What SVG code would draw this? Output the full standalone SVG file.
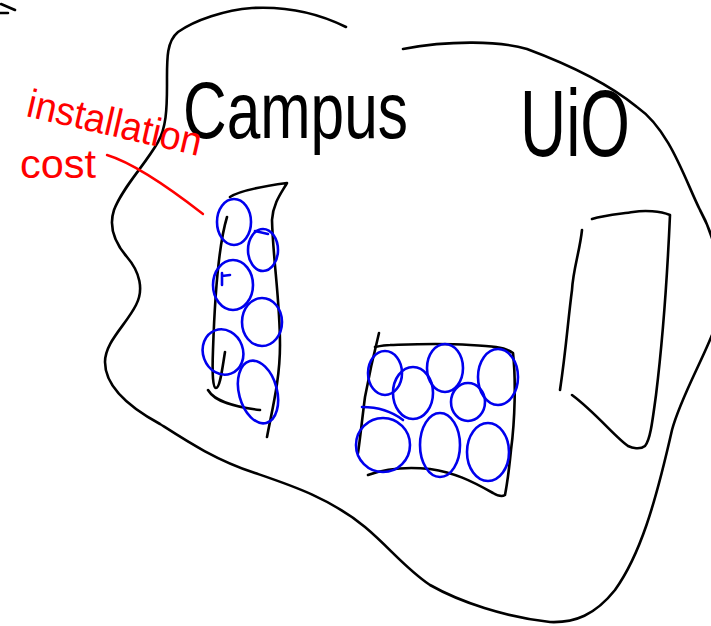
<svg xmlns="http://www.w3.org/2000/svg" width="711" height="626" viewBox="0 0 711 626">
<style>
.ink{fill:none;stroke:#000;stroke-width:2.6;stroke-linecap:round;stroke-linejoin:round}
.blue{fill:none;stroke:#0000ee;stroke-width:2.6;stroke-linecap:round;stroke-linejoin:round}
.red{fill:none;stroke:#ff0000;stroke-width:2.4;stroke-linecap:round;stroke-linejoin:round}
.lbl{font-family:"Liberation Sans",Arial,sans-serif;fill:#000}
.rlbl{font-family:"Liberation Sans",Arial,sans-serif;fill:#ff0000}
</style>
<rect width="711" height="626" fill="#fff"/>
<g id="corner-mark">
<path class="ink" d="M1,4 L15,10 M0,13 L8,13"/>
</g>
<g id="campus-outline">
<path class="ink" d="M346,27 C322,15 290,6 252,8 C225,10 195,20 178,32 C166,42 167,60 167,85 C167,110 166,128 158,142 C145,165 122,188 114,210 C108,228 115,243 127,257 C140,272 144,290 136,305 C126,325 105,342 105,362 C105,385 125,405 160,424 C185,440 215,460 255,473 C290,485 330,498 365,527 C390,548 405,568 430,585 C460,602 505,617 550,622 C575,623 595,615 615,590 C640,555 655,505 672,430 C680,400 700,365 712,335 C725,300 722,250 700,210 C685,180 670,130 637,107 C610,85 570,65 527,49 C500,41 450,40 403,49"/>
</g>
<g id="label-campus">
<text class="lbl" x="183" y="138" font-size="80" textLength="225" lengthAdjust="spacingAndGlyphs">Campus</text>
</g>
<g id="label-uio">
<text class="lbl" x="520" y="156" font-size="95" textLength="110" lengthAdjust="spacingAndGlyphs">UiO</text>
</g>
<g id="area-left">
<path class="ink" d="M230,197 C240,190 265,186 287,183 C282,192 273,203 272,220 C273,260 280,300 280,345 C280,380 272,410 267,437"/>
<path class="ink" d="M227,217 C220,240 215,290 213,350 C212,375 213,388 216,388 C220,388 222,370 225,352"/>
<path class="ink" d="M208,390 C215,402 235,407 260,410"/>
<ellipse class="blue" cx="234" cy="222" rx="17" ry="23"/>
<ellipse class="blue" cx="263" cy="250" rx="15" ry="21"/>
<path class="blue" d="M255,231 L268,234"/>
<ellipse class="blue" cx="233" cy="285" rx="20" ry="25"/>
<path class="blue" d="M222,276 L230,275 M222,273 L222,285"/>
<ellipse class="blue" cx="262" cy="322" rx="20" ry="24"/>
<ellipse class="blue" cx="223" cy="352" rx="20" ry="23" transform="rotate(-20 223 352)"/>
<ellipse class="blue" cx="258" cy="392" rx="19" ry="32" transform="rotate(-15 258 392)"/>
</g>
<g id="area-middle">
<path class="ink" d="M379,333 C376,345 370,370 365,397 C362,420 360,440 358,453"/>
<path class="ink" d="M375,347 C380,346 385,345 390,345 C420,344 440,343 470,345 C490,346 505,347 513,353 C516,380 515,420 511,450 C509,470 507,485 505,495 C502,497 498,496 493,493 C470,480 455,473 430,469 C410,467 390,467 368,475"/>
<ellipse class="blue" cx="385" cy="373" rx="17" ry="22"/>
<ellipse class="blue" cx="413" cy="393" rx="20" ry="26"/>
<ellipse class="blue" cx="445" cy="368" rx="18" ry="24"/>
<ellipse class="blue" cx="468" cy="402" rx="17" ry="19"/>
<ellipse class="blue" cx="498" cy="377" rx="20" ry="28"/>
<ellipse class="blue" cx="383" cy="445" rx="27" ry="27"/>
<path class="blue" d="M362,407 C375,407 390,410 403,420"/>
<ellipse class="blue" cx="440" cy="445" rx="20" ry="32"/>
<ellipse class="blue" cx="488" cy="452" rx="21" ry="29"/>
</g>
<g id="area-right">
<path class="ink" d="M582,230 C580,250 573,270 572,290 C568,320 566,350 560,390"/>
<path class="ink" d="M592,219 C605,215 620,214 633,212 C645,210 660,211 670,215 C668,260 664,330 656,395 C652,425 650,440 645,446 C640,450 632,448 628,446 C615,437 595,412 572,395"/>
</g>
<g id="label-installation-cost">
<text class="rlbl" x="25" y="116" font-size="40" textLength="178" lengthAdjust="spacingAndGlyphs" transform="rotate(13 25 116)">installation</text>
<text class="rlbl" x="20" y="178" font-size="40" textLength="76" lengthAdjust="spacingAndGlyphs">cost</text>
</g>
<g id="connectors">
<path class="red" d="M107,155 Q140,165 203,214"/>
</g>
</svg>
